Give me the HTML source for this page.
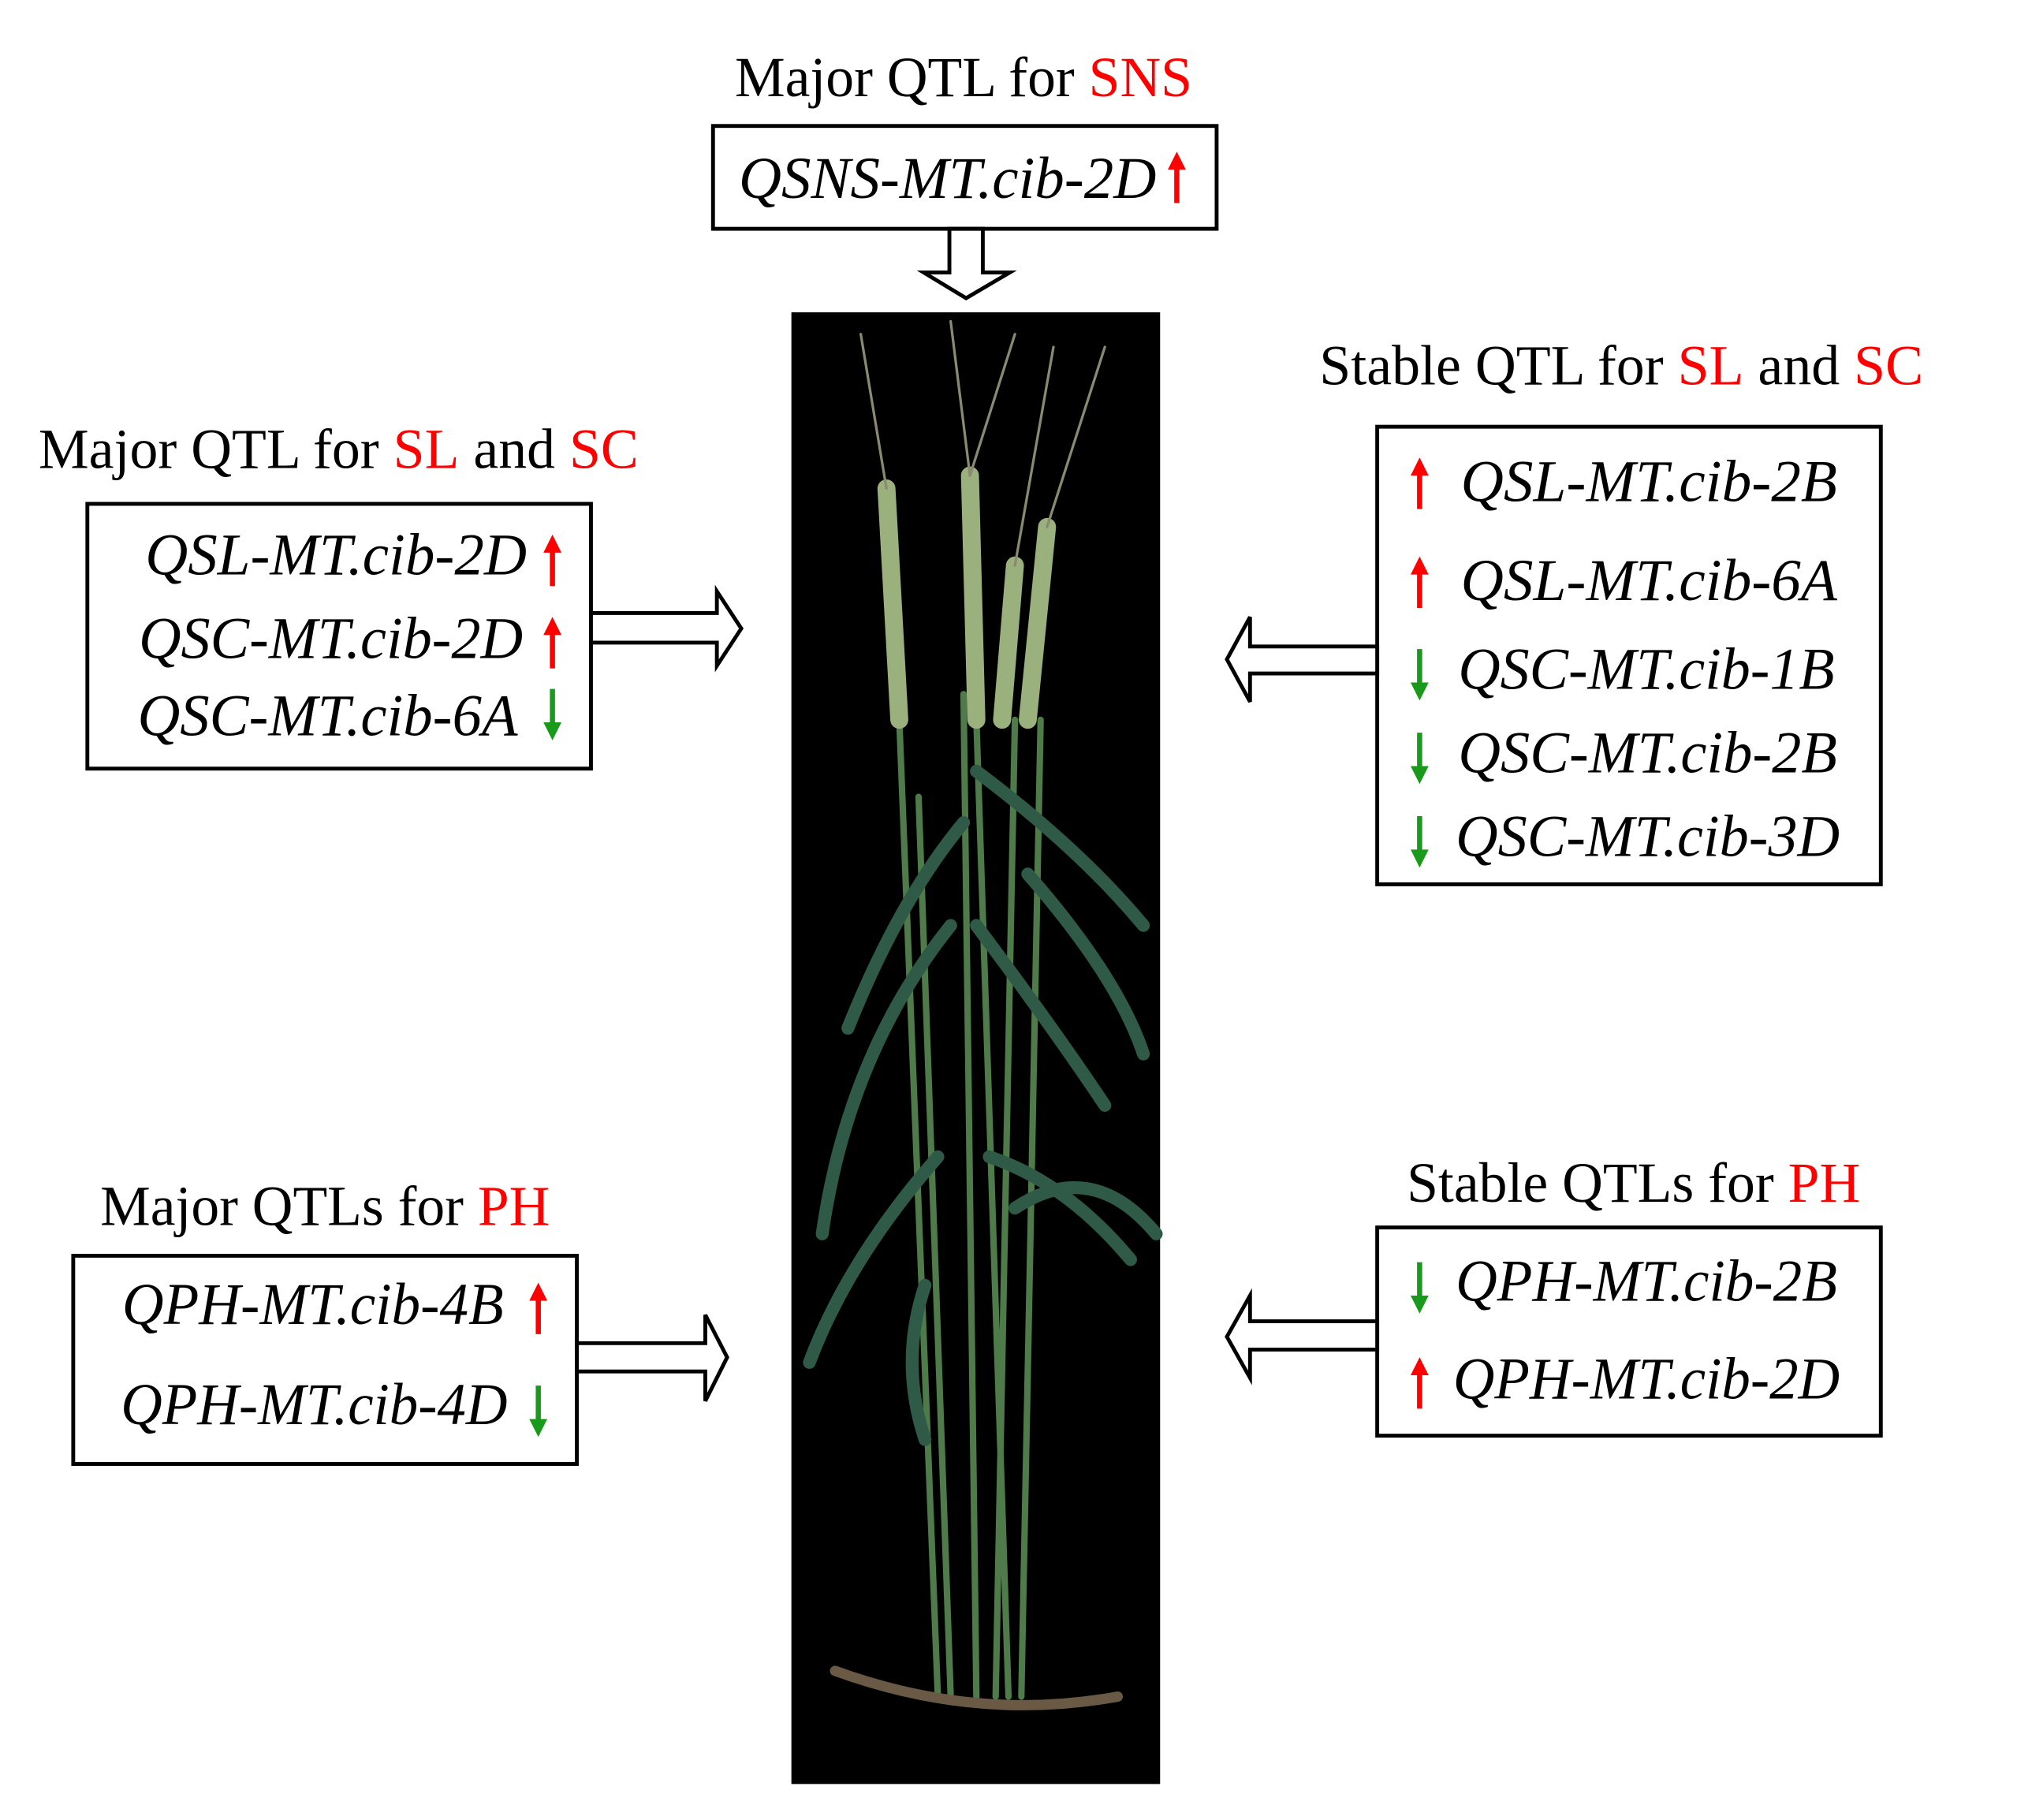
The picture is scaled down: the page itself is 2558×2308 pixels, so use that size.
<!DOCTYPE html>
<html><head><meta charset="utf-8"><style>
html,body{margin:0;padding:0;background:#fff;}
svg{display:block}
text{font-family:"Liberation Serif",serif;font-size:44px;fill:#000}
.i{font-style:italic;font-size:46px}
.r{fill:#f00}
</style></head><body>
<svg width="2558" height="2308" viewBox="0 0 1570 1416" preserveAspectRatio="none" xmlns="http://www.w3.org/2000/svg">
<defs>
<g id="up"><line x1="0" y1="8" x2="0" y2="38" stroke="#f00" stroke-width="4"/><polygon points="-7,12 7,12 0,-2" fill="#f00"/></g>
<g id="dn"><line x1="0" y1="0" x2="0" y2="30" stroke="#1a9a1a" stroke-width="4"/><polygon points="-7,26 7,26 0,40" fill="#1a9a1a"/></g>
</defs>
<!-- photo -->
<rect x="616" y="243" width="287" height="1145" fill="#000"/>
<g stroke-linecap="round" fill="none">
<path d="M760 1320 L750 540 M740 1320 L715 620 M775 1320 L790 560 M795 1320 L810 560 M730 1320 L700 560 M785 1320 L760 560" stroke="#4f7a4a" stroke-width="5"/>
<path d="M700 560 L690 380 M760 560 L755 370 M800 560 L815 410 M780 560 L790 440" stroke="#9ab07d" stroke-width="14"/>
<path d="M690 380 L670 260 M755 370 L740 250 M815 410 L860 270 M790 440 L820 270 M755 370 L790 260" stroke="#8a8a70" stroke-width="2"/>
<path d="M750 640 Q700 700 660 800 M760 600 Q840 660 890 720 M740 720 Q660 820 640 960 M800 680 Q870 760 890 820 M730 900 Q660 980 630 1060 M770 900 Q830 920 880 980 M760 720 Q820 800 860 860 M720 1000 Q700 1060 720 1120 M790 940 Q850 900 900 960" stroke="#2f5a48" stroke-width="10"/>
<path d="M650 1300 Q760 1340 870 1320" stroke="#6a5a45" stroke-width="8"/>
</g>
<!-- top -->
<text x="572" y="75" textLength="356" lengthAdjust="spacingAndGlyphs">Major QTL for <tspan class="r">SNS</tspan></text>
<rect x="555" y="98" width="392" height="80" fill="#fff" stroke="#000" stroke-width="3"/>
<text x="575" y="154" class="i" textLength="325" lengthAdjust="spacingAndGlyphs">QSNS-MT.cib-2D</text>
<use href="#up" x="916" y="120"/>
<polygon points="739,178 765,178 765,212 786,212 752,232 719,212 739,212" fill="#fff" stroke="#000" stroke-width="3"/>
<!-- left top -->
<text x="30" y="364" textLength="467" lengthAdjust="spacingAndGlyphs">Major QTL for <tspan class="r">SL</tspan> and <tspan class="r">SC</tspan></text>
<rect x="68" y="392" width="392" height="206" fill="#fff" stroke="#000" stroke-width="3"/>
<text x="113" y="447" class="i" textLength="297" lengthAdjust="spacingAndGlyphs">QSL-MT.cib-2D</text>
<text x="108" y="512" class="i" textLength="299" lengthAdjust="spacingAndGlyphs">QSC-MT.cib-2D</text>
<text x="107" y="572" class="i" textLength="296" lengthAdjust="spacingAndGlyphs">QSC-MT.cib-6A</text>
<use href="#up" x="430" y="418"/>
<use href="#up" x="430" y="482"/>
<use href="#dn" x="430" y="536"/>
<polygon points="460,477 558,477 558,460 577,489 558,518 558,500 460,500" fill="#fff" stroke="#000" stroke-width="3"/>
<!-- right top -->
<text x="1027" y="299" textLength="470" lengthAdjust="spacingAndGlyphs">Stable QTL for <tspan class="r">SL</tspan> and <tspan class="r">SC</tspan></text>
<rect x="1072" y="332" width="392" height="356" fill="#fff" stroke="#000" stroke-width="3"/>
<text x="1137" y="390" class="i" textLength="293" lengthAdjust="spacingAndGlyphs">QSL-MT.cib-2B</text>
<text x="1137" y="467" class="i" textLength="293" lengthAdjust="spacingAndGlyphs">QSL-MT.cib-6A</text>
<text x="1135" y="536" class="i" textLength="293" lengthAdjust="spacingAndGlyphs">QSC-MT.cib-1B</text>
<text x="1135" y="601" class="i" textLength="295" lengthAdjust="spacingAndGlyphs">QSC-MT.cib-2B</text>
<text x="1133" y="666" class="i" textLength="299" lengthAdjust="spacingAndGlyphs">QSC-MT.cib-3D</text>
<use href="#up" x="1105" y="358"/>
<use href="#up" x="1105" y="435"/>
<use href="#dn" x="1105" y="505"/>
<use href="#dn" x="1105" y="570"/>
<use href="#dn" x="1105" y="635"/>
<polygon points="1072,503 973,503 973,480 955,513 973,546 973,524 1072,524" fill="#fff" stroke="#000" stroke-width="3"/>
<!-- left bottom -->
<text x="78" y="953" textLength="350" lengthAdjust="spacingAndGlyphs">Major QTLs for <tspan class="r">PH</tspan></text>
<rect x="57" y="977" width="392" height="162" fill="#fff" stroke="#000" stroke-width="3"/>
<text x="95" y="1030" class="i" textLength="297" lengthAdjust="spacingAndGlyphs">QPH-MT.cib-4B</text>
<text x="94" y="1108" class="i" textLength="301" lengthAdjust="spacingAndGlyphs">QPH-MT.cib-4D</text>
<use href="#up" x="419" y="1000"/>
<use href="#dn" x="419" y="1078"/>
<polygon points="449,1045 549,1045 549,1023 566,1056 549,1090 549,1067 449,1067" fill="#fff" stroke="#000" stroke-width="3"/>
<!-- right bottom -->
<text x="1095" y="935" textLength="353" lengthAdjust="spacingAndGlyphs">Stable QTLs for <tspan class="r">PH</tspan></text>
<rect x="1072" y="955" width="392" height="162" fill="#fff" stroke="#000" stroke-width="3"/>
<text x="1133" y="1012" class="i" textLength="297" lengthAdjust="spacingAndGlyphs">QPH-MT.cib-2B</text>
<text x="1131" y="1088" class="i" textLength="301" lengthAdjust="spacingAndGlyphs">QPH-MT.cib-2D</text>
<use href="#dn" x="1105" y="982"/>
<use href="#up" x="1105" y="1058"/>
<polygon points="1072,1028 973,1028 973,1008 955,1040 973,1072 973,1050 1072,1050" fill="#fff" stroke="#000" stroke-width="3"/>
</svg>
</body></html>
